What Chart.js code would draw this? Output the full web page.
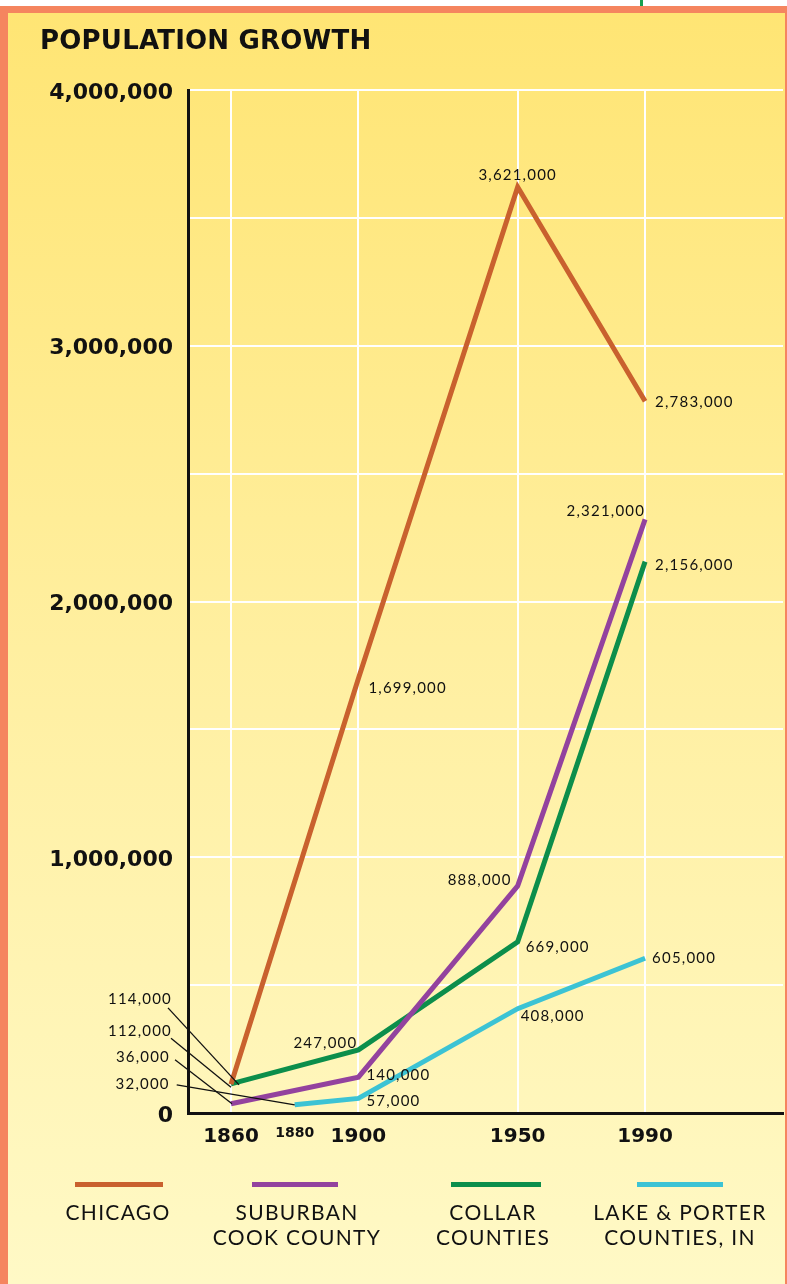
<!DOCTYPE html>
<html><head><meta charset="utf-8">
<script src="https://cdn.jsdelivr.net/npm/chart.js@4.4.1/dist/chart.umd.min.js"></script>
<style>
html,body{margin:0;padding:0;background:#fff;}
#wrap{position:relative;width:787px;height:1284px;overflow:hidden;}
#c{position:absolute;left:0;top:0;}
.title{position:absolute;left:40px;top:27px;font:bold 26px "DejaVu Sans";line-height:1;color:#111;white-space:nowrap;letter-spacing:0.2px;}
.lg-line{position:absolute;height:5px;top:1182px;}
.lg-text{position:absolute;width:220px;text-align:center;top:1199px;font:400 21px Lato;line-height:25px;letter-spacing:1.3px;color:#111;}
</style></head>
<body>
<div id="wrap">
<canvas id="c" width="787" height="1284"></canvas>
<div class="title">POPULATION GROWTH</div>
<div id="legend"></div>
</div>
<script>
// ---- data ----
const xTickYears = [1860, 1880, 1900, 1950, 1990];
const yLabelTicks = [0, 1000000, 2000000, 3000000, 4000000];
const seriesNames = [['CHICAGO'], ['SUBURBAN', 'COOK COUNTY'], ['COLLAR', 'COUNTIES'], ['LAKE & PORTER', 'COUNTIES, IN']];
const chicagoYears = [1860, 1900, 1950, 1990];
const chicago = [112000, 1699000, 3621000, 2783000];
const suburbanYears = [1860, 1900, 1950, 1990];
const suburbanCook = [36000, 140000, 888000, 2321000];
const collarYears = [1860, 1900, 1950, 1990];
const collarCounties = [114000, 247000, 669000, 2156000];
const lakePorterYears = [1880, 1900, 1950, 1990];
const lakePorter = [32000, 57000, 408000, 605000];

// ---- styles ----
const colors = ['#C9612E', '#93429E', '#0C8E4B', '#3CC3D4'];
const legendLines = [[75, 88], [252, 86], [451, 90], [637, 86]];
const legendCenters = [118, 297, 493, 680];

// label placement (offsets from data point, pixels)
const labelPlacement = [
  {ds:0,i:0,dx:-59,dy:-53,align:'right',lead:[-60,-46],end:[0,3]},
  {ds:0,i:1,dx:10,dy:10,align:'left'},
  {ds:0,i:2,dx:0,dy:-12,align:'center'},
  {ds:0,i:3,dx:10,dy:1,align:'left'},
  {ds:1,i:0,dx:-61,dy:-47,align:'right',lead:[-56,-44],end:[1,0]},
  {ds:1,i:1,dx:8,dy:-2,align:'left'},
  {ds:1,i:2,dx:-6,dy:-6,align:'right'},
  {ds:1,i:3,dx:0,dy:-8,align:'right'},
  {ds:2,i:0,dx:-59,dy:-85,align:'right',lead:[-63,-76],end:[8,1]},
  {ds:2,i:1,dx:-1,dy:-7,align:'right'},
  {ds:2,i:2,dx:8,dy:5,align:'left'},
  {ds:2,i:3,dx:10,dy:4,align:'left'},
  {ds:3,i:0,dx:-125,dy:-21,align:'right',lead:[-118,-20],end:[0,0]},
  {ds:3,i:1,dx:8,dy:3,align:'left'},
  {ds:3,i:2,dx:3,dy:8,align:'left'},
  {ds:3,i:3,dx:7,dy:0,align:'left'}
];

const seriesX = [chicagoYears, suburbanYears, collarYears, lakePorterYears];
const seriesY = [chicago, suburbanCook, collarCounties, lakePorter];

const bgPlugin = {
  id: 'bg',
  beforeDraw(chart) {
    const ctx = chart.ctx, W = chart.width, H = chart.height;
    ctx.save();
    ctx.fillStyle = '#fff'; ctx.fillRect(0, 0, W, H);
    ctx.fillStyle = '#16A04F'; ctx.fillRect(640, 0, 3, 7);
    ctx.fillStyle = '#F5855F'; ctx.fillRect(0, 6, W, H - 6);
    const g = ctx.createLinearGradient(0, 13, 0, H);
    g.addColorStop(0, '#FFE574');
    g.addColorStop(0.5, '#FFEFA0');
    g.addColorStop(1, '#FFF9C6');
    ctx.fillStyle = g; ctx.fillRect(8, 13, W - 10, H - 13);
    ctx.restore();
  }
};

const labelPlugin = {
  id: 'vlabels',
  afterDatasetsDraw(chart) {
    const ctx = chart.ctx;
    ctx.save();
    ctx.font = '15px Lato';
    ctx.letterSpacing = '1.2px';
    ctx.fillStyle = '#111';
    ctx.strokeStyle = '#111';
    ctx.lineWidth = 1.3;
    ctx.textBaseline = 'middle';
    labelPlacement.forEach(p => {
      const el = chart.getDatasetMeta(p.ds).data[p.i];
      const v = seriesY[p.ds][p.i];
      const px = el.x, py = el.y;
      ctx.textAlign = p.align;
      ctx.fillText(v.toLocaleString('en-US'), px + p.dx, py + p.dy);
      if (p.lead) {
        ctx.beginPath();
        ctx.moveTo(px + p.lead[0], py + p.lead[1]);
        ctx.lineTo(px + p.end[0], py + p.end[1]);
        ctx.stroke();
      }
    });
    ctx.restore();
  }
};

const datasets = seriesY.map((vals, s) => ({
  label: seriesNames[s].join(' '),
  data: vals.map((y, i) => ({x: seriesX[s][i], y})),
  borderColor: colors[s],
  backgroundColor: colors[s],
  borderWidth: 5,
  pointRadius: 0,
  borderJoinStyle: 'miter',
  tension: 0
}));

new Chart(document.getElementById('c'), {
  type: 'line',
  data: { datasets },
  plugins: [bgPlugin, labelPlugin],
  options: {
    responsive: false,
    animation: false,
    devicePixelRatio: 1,
    layout: { padding: { top: 90, left: 0, right: 4, bottom: 131 } },
    plugins: { legend: { display: false }, tooltip: { enabled: false }, title: { display: false } },
    scales: {
      x: {
        type: 'linear',
        min: 1846.5,
        max: 2033.3,
        afterBuildTicks: s => { s.ticks = xTickYears.map(v => ({ value: v })); },
        afterFit: s => { s.height = 40; },
        ticks: {
          autoSkip: false, maxRotation: 0, padding: 12, color: '#111',
          callback: v => String(v),
          font: c => ({ family: 'DejaVu Sans', weight: 'bold', size: (c.tick && c.tick.value === 1880) ? 14 : 20 })
        },
        grid: {
          drawTicks: false, lineWidth: 2,
          color: c => (c.tick && c.tick.value === 1880) ? 'rgba(0,0,0,0)' : '#ffffff'
        },
        border: { color: '#111', width: 3 }
      },
      y: {
        min: 0, max: 4000000,
        afterFit: s => { s.width = 188; },
        ticks: {
          stepSize: 500000, padding: 15, color: '#111', labelOffset: 3,
          font: { family: 'DejaVu Sans', weight: 'bold', size: 22 },
          callback: v => yLabelTicks.includes(v) ? v.toLocaleString('en-US') : ''
        },
        grid: { drawTicks: false, lineWidth: 2, color: '#ffffff' },
        border: { color: '#111', width: 3 }
      }
    }
  }
});

// legend (HTML)
const lg = document.getElementById('legend');
seriesNames.forEach((lines, s) => {
  const l = document.createElement('div');
  l.className = 'lg-line';
  l.style.left = legendLines[s][0] + 'px';
  l.style.width = legendLines[s][1] + 'px';
  l.style.background = colors[s];
  lg.appendChild(l);
  const t = document.createElement('div');
  t.className = 'lg-text';
  t.style.left = (legendCenters[s] - 110) + 'px';
  t.innerHTML = lines.map(x => x.replace('&', '&amp;')).join('<br>');
  lg.appendChild(t);
});
</script>
</body></html>
